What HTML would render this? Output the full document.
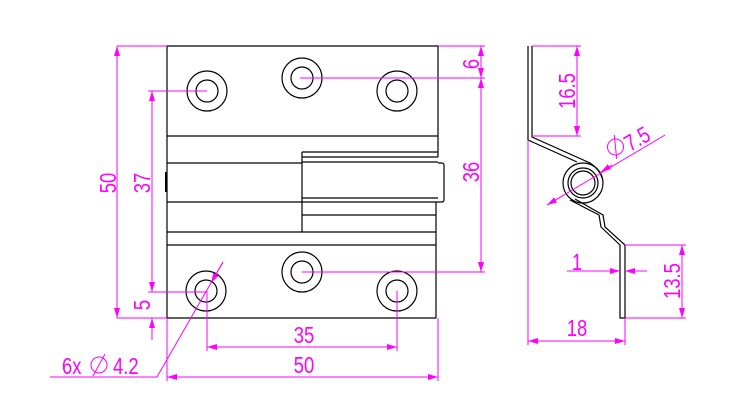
<!DOCTYPE html>
<html><head><meta charset="utf-8"><style>
html,body{margin:0;padding:0;background:#fff;}
svg{display:block;}
text{font-family:"Liberation Sans",sans-serif;font-size:23px;fill:#ff00ff;}
</style></head><body>
<svg width="750" height="414" viewBox="0 0 750 414" xmlns="http://www.w3.org/2000/svg">
<defs>
<marker id="a" viewBox="0 0 10 6" refX="10" refY="3" markerWidth="10" markerHeight="6" orient="auto-start-reverse" markerUnits="userSpaceOnUse"><path d="M0,0 L10,3 L0,6 z" fill="#ff00ff"/></marker>
</defs>
<g stroke="#000" stroke-width="1.2" fill="none">
<path d="M167,46 H438 V157"/>
<path d="M167,46 V232"/>
<path d="M167,136 H438"/>
<path d="M302,152 H438 M302,157 H438"/>
<path d="M302,152 V232"/>
<path d="M167,163 H302 M167,202 H302"/>
<path d="M302,162 H438 M302,198 H438 M302,202 H438"/>
<path d="M166,172 V192" stroke-width="2"/>
<path d="M438,163 h4 a2,2 0 0 1 2,2 v35 a2,2 0 0 1 -2,2 h-4"/>
<path d="M302,215 H436"/>
<path d="M436,202 V318"/>
<path d="M167,232 H436 M167,245 H436 M167,318 H436 M167,232 V318"/>
<circle cx="207" cy="91" r="20"/><circle cx="207" cy="91" r="11"/>
<circle cx="302" cy="78" r="20"/><circle cx="302" cy="78" r="11"/>
<circle cx="397" cy="91" r="20"/><circle cx="397" cy="91" r="11"/>
<circle cx="206" cy="291" r="20"/><circle cx="206" cy="291" r="11"/>
<circle cx="302" cy="272" r="20"/><circle cx="302" cy="272" r="11"/>
<circle cx="397" cy="291" r="20"/><circle cx="397" cy="291" r="11"/>
<path d="M528,46 V140 L577,162"/>
<path d="M532,46 V137 L590,163 Q600,170 602,178"/>
<circle cx="583" cy="183" r="20"/>
<circle cx="583" cy="183" r="15"/>
<circle cx="583" cy="183" r="12"/>
<path d="M570,200 L599,215 L601,227 L620,245 V318 H625 V245 L605,227 L603,215 L575,199"/>
</g>
<g stroke="#ff00ff" stroke-width="1" fill="none">
<path d="M117,46 H167 M117,318 H167"/>
<path d="M117,46 V318" marker-start="url(#a)" marker-end="url(#a)"/>
<path d="M148,91 H207 M148,292 H207"/>
<path d="M152,91 V292" marker-start="url(#a)" marker-end="url(#a)"/>
<path d="M152,340 V318" marker-end="url(#a)"/>
<path d="M438,46 H485 M300,78 H485 M302,272 H485"/>
<path d="M481,78 V272" marker-start="url(#a)" marker-end="url(#a)"/>
<path d="M481,46 V78" marker-start="url(#a)" marker-end="url(#a)"/>
<path d="M207,291 V351 M397,291 V351"/>
<path d="M207,347 H397" marker-start="url(#a)" marker-end="url(#a)"/>
<path d="M167,318 V381 M438,318 V381"/>
<path d="M167,377 H438" marker-start="url(#a)" marker-end="url(#a)"/>
<path d="M223,262 L157,377 H50"/>
<path d="M223,262 L211,283" marker-end="url(#a)"/>
<path d="M532,46 H581 M532,136 H581"/>
<path d="M577,46 V136" marker-start="url(#a)" marker-end="url(#a)"/>
<path d="M547,205 L665,135"/>
<path d="M547,205 L564,195" marker-start="url(#a)"/>
<path d="M601,172 L612,165" marker-start="url(#a)"/>
<path d="M625,245 H686 M625,318 H686"/>
<path d="M682,245 V318" marker-start="url(#a)" marker-end="url(#a)"/>
<path d="M567,271 H620" marker-end="url(#a)"/>
<path d="M647,271 H625" marker-end="url(#a)"/>
<path d="M528,140 V345 M625,318 V345"/>
<path d="M528,341 H625" marker-start="url(#a)" marker-end="url(#a)"/>
</g>
<g>
<text transform="translate(116,183) rotate(-90) scale(0.8,1)" text-anchor="middle">50</text>
<text transform="translate(150,183) rotate(-90) scale(0.8,1)" text-anchor="middle">37</text>
<text transform="translate(150,305) rotate(-90) scale(0.8,1)" text-anchor="middle">5</text>
<text transform="translate(479,172) rotate(-90) scale(0.8,1)" text-anchor="middle">36</text>
<text transform="translate(479,64) rotate(-90) scale(0.8,1)" text-anchor="middle">6</text>
<text transform="translate(304,343) scale(0.8,1)" text-anchor="middle">35</text>
<text transform="translate(304,373) scale(0.8,1)" text-anchor="middle">50</text>
<text transform="translate(62,374) scale(0.8,1)">6x</text>
<text transform="translate(113,374) scale(0.8,1)">4.2</text>
<text transform="translate(575,91) rotate(-90) scale(0.8,1)" text-anchor="middle">16.5</text>
<text transform="translate(680,281) rotate(-90) scale(0.8,1)" text-anchor="middle">13.5</text>
<text transform="translate(577,270) scale(0.8,1)" text-anchor="middle">1</text>
<text transform="translate(577,336) scale(0.8,1)" text-anchor="middle">18</text>
<text transform="translate(630,152) rotate(-30) scale(0.8,1)">7.5</text>
</g>
<g stroke="#ff00ff" stroke-width="1" fill="none">
<circle cx="99" cy="365" r="8"/><path d="M93,376 L105,354"/>
<g transform="translate(619,153) rotate(-30)"><circle cx="0" cy="-7" r="8"/><path d="M-5,4 L5,-18"/></g>
</g>
</svg>
</body></html>
